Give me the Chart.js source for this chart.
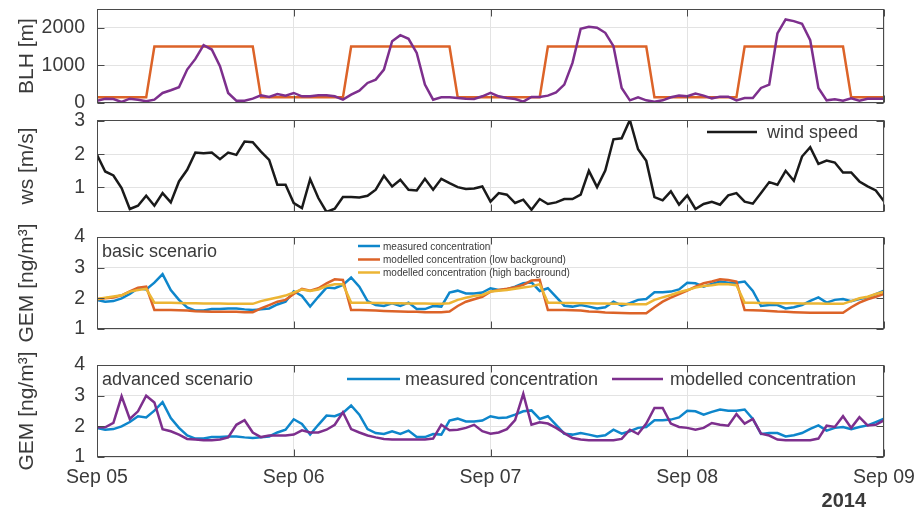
<!DOCTYPE html>
<html>
<head>
<meta charset="utf-8">
<script src="https://cdn.jsdelivr.net/npm/chart.js@4.4.1/dist/chart.umd.min.js"></script>
<style>
  html, body { margin: 0; padding: 0; background: #fff; }
  #wrap { position: relative; width: 919px; height: 512px; }
  #wrap div { position: absolute; left: 0; top: 0; width: 919px; height: 512px; }
</style>
</head>
<body>
<div id="wrap">
  <div><canvas id="c1"></canvas></div>
  <div><canvas id="c2"></canvas></div>
  <div><canvas id="c3"></canvas></div>
  <div><canvas id="c4"></canvas></div>
</div>
<script>
// hourly samples, Sep 05 00:00 .. Sep 09 00:00
const hours = Array.from({ length: 97 }, (_, i) => i);
const dayTicks = [0, 24, 48, 72, 96];
const dayLabels = ["Sep 05", "Sep 06", "Sep 07", "Sep 08", "Sep 09"];

const blhTicks = [0, 1000, 2000];
const wsTicks = [1, 2, 3];
const gemTicks = [1, 2, 3, 4];

// BLH [m]
const blhModel = [
  150, 150, 150, 150, 150, 150, 150,
  1500, 1500, 1500, 1500, 1500, 1500, 1500, 1500, 1500, 1500, 1500, 1500, 1500,
  150, 150, 150, 150, 150, 150, 150, 150, 150, 150, 150,
  1500, 1500, 1500, 1500, 1500, 1500, 1500, 1500, 1500, 1500, 1500, 1500, 1500,
  150, 150, 150, 150, 150, 150, 150, 150, 150, 150, 150,
  1500, 1500, 1500, 1500, 1500, 1500, 1500, 1500, 1500, 1500, 1500, 1500, 1500,
  150, 150, 150, 150, 150, 150, 150, 150, 150, 150, 150,
  1500, 1500, 1500, 1500, 1500, 1500, 1500, 1500, 1500, 1500, 1500, 1500, 1500,
  150, 150, 150, 150, 150
];
const blhObs = [
  62, 115, 107, 27, 115, 89, 44, 89, 267, 338, 418, 889, 1173, 1538, 1422, 978, 267, 62, 62, 115, 204, 160, 240, 196,
  267, 178, 178, 204, 204, 178, 89, 222, 329, 533, 622, 889, 1645, 1805, 1707, 1333, 489, 89, 151, 151, 133, 115, 107, 178,
  267, 178, 133, 107, 36, 160, 160, 196, 284, 489, 1067, 1973, 2027, 2000, 1867, 1511, 400, 71, 151, 71, 36, 71, 151, 196,
  178, 249, 196, 124, 169, 169, 71, 133, 133, 400, 489, 1849, 2222, 2178, 2107, 1671, 400, 71, 98, 62, 124, 62, 115, 115, 115
];

// wind speed [m/s]
const windSpeed = [
  1.98, 1.48, 1.36, 0.98, 0.35, 0.45, 0.75, 0.45, 0.83, 0.55, 1.18, 1.53, 2.05, 2.03, 2.05, 1.85, 2.05, 1.98, 2.38, 2.36, 2.08, 1.83, 1.08, 1.08,
  0.53, 0.38, 1.25, 0.68, 0.26, 0.36, 0.71, 0.71, 0.70, 0.75, 0.93, 1.35, 1.03, 1.23, 0.93, 0.91, 1.26, 0.93, 1.26, 1.13, 1.01, 0.95, 0.97, 1.03,
  0.57, 0.83, 0.78, 0.53, 0.63, 0.33, 0.65, 0.50, 0.55, 0.65, 0.65, 0.78, 1.50, 1.01, 1.51, 2.45, 2.48, 3.03, 2.15, 1.80, 0.71, 0.61, 0.88, 0.48,
  0.76, 0.35, 0.50, 0.57, 0.48, 0.76, 0.83, 0.57, 0.51, 0.83, 1.16, 1.08, 1.50, 1.20, 1.93, 2.21, 1.71, 1.81, 1.75, 1.45, 1.45, 1.18, 1.03, 0.91, 0.58
];

// GEM [ng/m3]
const gemMeasured = [
  1.95, 1.89, 1.91, 2.00, 2.14, 2.33, 2.29, 2.51, 2.79, 2.27, 1.95, 1.70, 1.60, 1.60, 1.65, 1.65, 1.67, 1.67, 1.64, 1.62, 1.64, 1.67, 1.80, 1.89,
  2.23, 2.08, 1.73, 2.05, 2.35, 2.33, 2.44, 2.68, 2.38, 1.91, 1.78, 1.75, 1.84, 1.75, 1.86, 1.65, 1.65, 1.75, 1.73, 2.19, 2.25, 2.16, 2.16, 2.19,
  2.33, 2.27, 2.29, 2.38, 2.49, 2.52, 2.24, 2.33, 2.05, 1.76, 1.73, 1.78, 1.73, 1.67, 1.71, 1.89, 1.76, 1.84, 1.95, 1.98, 2.20, 2.20, 2.22, 2.29,
  2.51, 2.49, 2.38, 2.47, 2.55, 2.51, 2.51, 2.55, 2.24, 1.75, 1.78, 1.78, 1.67, 1.71, 1.78, 1.92, 2.03, 1.86, 1.95, 1.98, 1.91, 1.98, 2.03, 2.14, 2.25
];
const gemLowBg = [
  1.97, 2.00, 2.03, 2.10, 2.23, 2.35, 2.38, 1.62, 1.62, 1.62, 1.61, 1.60, 1.58, 1.57, 1.56, 1.56, 1.56, 1.56, 1.55, 1.55, 1.67, 1.78, 1.89, 1.95,
  2.14, 2.31, 2.25, 2.33, 2.49, 2.62, 2.60, 1.62, 1.62, 1.61, 1.60, 1.59, 1.58, 1.57, 1.56, 1.56, 1.55, 1.55, 1.55, 1.57, 1.75, 1.89, 1.97, 2.05,
  2.22, 2.27, 2.31, 2.36, 2.44, 2.58, 2.60, 1.62, 1.62, 1.62, 1.61, 1.60, 1.57, 1.56, 1.54, 1.53, 1.52, 1.51, 1.51, 1.51, 1.71, 1.89, 2.02, 2.14,
  2.25, 2.38, 2.49, 2.55, 2.62, 2.60, 2.55, 1.62, 1.61, 1.60, 1.59, 1.57, 1.56, 1.55, 1.54, 1.53, 1.53, 1.53, 1.53, 1.53, 1.71, 1.86, 1.97, 2.05, 2.14
];
const gemHighBg = [
  1.98, 2.02, 2.06, 2.10, 2.22, 2.27, 2.31, 1.86, 1.86, 1.86, 1.85, 1.84, 1.84, 1.83, 1.83, 1.83, 1.82, 1.82, 1.82, 1.82, 1.91, 1.97, 2.03, 2.09,
  2.19, 2.29, 2.24, 2.29, 2.40, 2.46, 2.46, 1.86, 1.86, 1.86, 1.85, 1.85, 1.84, 1.84, 1.83, 1.83, 1.83, 1.82, 1.82, 1.84, 1.95, 2.02, 2.08, 2.11,
  2.22, 2.25, 2.27, 2.31, 2.35, 2.39, 2.46, 1.86, 1.86, 1.85, 1.85, 1.84, 1.84, 1.83, 1.83, 1.82, 1.82, 1.81, 1.81, 1.81, 1.95, 2.03, 2.11, 2.20,
  2.27, 2.35, 2.40, 2.43, 2.47, 2.46, 2.43, 1.86, 1.86, 1.85, 1.85, 1.84, 1.84, 1.84, 1.83, 1.83, 1.83, 1.82, 1.82, 1.82, 1.91, 2.00, 2.05, 2.14, 2.22
];
const gemAdvanced = [
  1.97, 1.97, 2.11, 2.98, 2.24, 2.49, 3.00, 2.78, 1.91, 1.84, 1.73, 1.59, 1.57, 1.55, 1.55, 1.57, 1.64, 2.05, 2.20, 1.80, 1.65, 1.70, 1.70, 1.70,
  1.73, 1.87, 1.80, 1.80, 1.89, 2.05, 2.46, 1.91, 1.80, 1.70, 1.64, 1.59, 1.57, 1.57, 1.57, 1.57, 1.57, 1.60, 2.05, 1.87, 1.89, 1.95, 2.05, 1.84,
  1.76, 1.80, 1.91, 2.20, 3.06, 2.05, 2.13, 2.09, 1.95, 1.78, 1.62, 1.57, 1.55, 1.55, 1.55, 1.55, 1.59, 1.89, 1.75, 2.09, 2.60, 2.60, 2.09, 1.98,
  1.95, 1.89, 1.95, 2.11, 2.05, 2.02, 2.40, 2.09, 2.24, 1.76, 1.70, 1.57, 1.55, 1.55, 1.55, 1.55, 1.60, 2.02, 1.98, 2.33, 1.95, 2.30, 2.03, 2.05, 2.20
];

const FONT = "'Liberation Sans', Arial, Helvetica, sans-serif";
const INK = "#3a3a3a";
const GRID = "#e3e3e3";
const BLUE = "#0e86cb", ORANGE = "#dc6328", YELLOW = "#ecb534", PURPLE = "#7d2f8d", BLACK = "#1a1a1a";

// box, inward ticks, legends and labels drawn on top
const framePlugin = {
  id: "frame",
  afterDraw(chart, args, opts) {
    const { ctx, chartArea: a, scales } = chart;
    const L = Math.round(a.left) + 0.5, R = Math.round(a.right) - 0.5;
    const T = Math.round(a.top) + 0.5, B = Math.round(a.bottom) - 0.5;
    ctx.save();
    ctx.strokeStyle = "#4a4a4a";
    ctx.lineWidth = 1;
    ctx.strokeRect(L, T, R - L, B - T);
    ctx.beginPath();
    dayTicks.forEach(v => {
      const px = Math.round(scales.x.getPixelForValue(v)) + 0.5;
      ctx.moveTo(px, T); ctx.lineTo(px, T + 7);
      ctx.moveTo(px, B); ctx.lineTo(px, B - 7);
    });
    scales.y.ticks.forEach(t => {
      const py = Math.round(scales.y.getPixelForValue(t.value)) + 0.5;
      ctx.moveTo(L, py); ctx.lineTo(L + 7, py);
      ctx.moveTo(R, py); ctx.lineTo(R - 7, py);
    });
    ctx.stroke();

    (opts.legend || []).forEach(it => {
      const ds = chart.data.datasets[it.ds];
      ctx.strokeStyle = ds.borderColor;
      ctx.lineWidth = it.lw || 2.5;
      ctx.beginPath();
      ctx.moveTo(it.x1, it.y); ctx.lineTo(it.x2, it.y);
      ctx.stroke();
      ctx.fillStyle = INK;
      ctx.font = it.size + "px " + FONT;
      ctx.textAlign = "left";
      ctx.textBaseline = "middle";
      ctx.fillText(ds.label, it.tx, it.y + 1);
    });
    (opts.texts || []).forEach(it => {
      ctx.fillStyle = INK;
      ctx.font = (it.bold ? "bold " : "") + it.size + "px " + FONT;
      ctx.textAlign = it.align || "left";
      ctx.textBaseline = "alphabetic";
      ctx.fillText(it.text, it.x, it.y);
    });
    ctx.restore();
  }
};

function panelOptions(p) {
  return {
    responsive: true,
    maintainAspectRatio: false,
    animation: false,
    events: [],
    layout: { padding: { left: 0, right: 35, top: p.top, bottom: 512 - p.bottom - 30 } },
    elements: { point: { radius: 0 }, line: { borderWidth: 2.5, tension: 0 } },
    plugins: {
      legend: { display: false },
      tooltip: { enabled: false },
      frame: { legend: p.legend, texts: p.texts }
    },
    scales: {
      x: {
        type: "linear",
        min: 0,
        max: 96,
        afterBuildTicks: s => { s.ticks = dayTicks.map(v => ({ value: v })); },
        afterFit: s => { s.height = 30; s.paddingLeft = 0; s.paddingRight = 0; },
        grid: { color: GRID, drawTicks: false },
        border: { display: false },
        ticks: {
          display: !!p.showX,
          autoSkip: false,
          maxRotation: 0,
          padding: 9,
          color: INK,
          font: { family: FONT, size: 19.5 },
          callback: (v, i) => dayLabels[i]
        }
      },
      y: {
        min: p.min,
        max: p.max,
        afterBuildTicks: s => { s.ticks = p.ticks.map(v => ({ value: v })); },
        afterFit: s => { s.width = 97; s.paddingTop = 0; s.paddingBottom = 0; },
        grid: { color: GRID, drawTicks: false },
        border: { display: false },
        ticks: { padding: 12, color: INK, font: { family: FONT, size: 19.5 }, callback: v => String(v) },
        title: { display: true, text: p.title, color: INK, font: { family: FONT, size: 21 }, padding: { top: 15, bottom: 0 } }
      }
    }
  };
}

Chart.register(framePlugin);

new Chart(document.getElementById("c1"), {
  type: "line",
  data: {
    labels: hours,
    datasets: [
      { label: "BLH (model)", data: blhModel, borderColor: ORANGE, order: 2 },
      { label: "BLH", data: blhObs, borderColor: PURPLE, order: 1 }
    ]
  },
  options: panelOptions({ top: 9, bottom: 103, min: 0, max: 2500, ticks: blhTicks, title: "BLH [m]" })
});

new Chart(document.getElementById("c2"), {
  type: "line",
  data: {
    labels: hours,
    datasets: [
      { label: "wind speed", data: windSpeed, borderColor: BLACK }
    ]
  },
  options: panelOptions({
    top: 120, bottom: 212, min: 0.26, max: 3.03, ticks: wsTicks, title: "ws [m/s]",
    legend: [{ ds: 0, x1: 707, x2: 757, y: 132, tx: 767, size: 18 }]
  })
});

new Chart(document.getElementById("c3"), {
  type: "line",
  data: {
    labels: hours,
    datasets: [
      { label: "measured concentration", data: gemMeasured, borderColor: BLUE, order: 3 },
      { label: "modelled concentration (low background)", data: gemLowBg, borderColor: ORANGE, order: 2 },
      { label: "modelled concentration (high background)", data: gemHighBg, borderColor: YELLOW, order: 1 }
    ]
  },
  options: panelOptions({
    top: 237, bottom: 329, min: 1, max: 4, ticks: gemTicks, title: "GEM [ng/m³]",
    legend: [
      { ds: 0, x1: 358, x2: 380, y: 246, tx: 383, size: 10 },
      { ds: 1, x1: 358, x2: 380, y: 259.5, tx: 383, size: 10 },
      { ds: 2, x1: 358, x2: 380, y: 272.5, tx: 383, size: 10 }
    ],
    texts: [{ text: "basic scenario", x: 102, y: 257, size: 18 }]
  })
});

new Chart(document.getElementById("c4"), {
  type: "line",
  data: {
    labels: hours,
    datasets: [
      { label: "measured concentration", data: gemMeasured, borderColor: BLUE, order: 2 },
      { label: "modelled concentration", data: gemAdvanced, borderColor: PURPLE, order: 1 }
    ]
  },
  options: panelOptions({
    top: 365, bottom: 457, min: 1, max: 4, ticks: gemTicks, title: "GEM [ng/m³]", showX: true,
    legend: [
      { ds: 0, x1: 347, x2: 400, y: 379, tx: 405, size: 18 },
      { ds: 1, x1: 612, x2: 663, y: 379, tx: 670, size: 18 }
    ],
    texts: [
      { text: "advanced scenario", x: 102, y: 385, size: 18 },
      { text: "2014", x: 866, y: 507, size: 20, bold: true, align: "right" }
    ]
  })
});
</script>
</body>
</html>
